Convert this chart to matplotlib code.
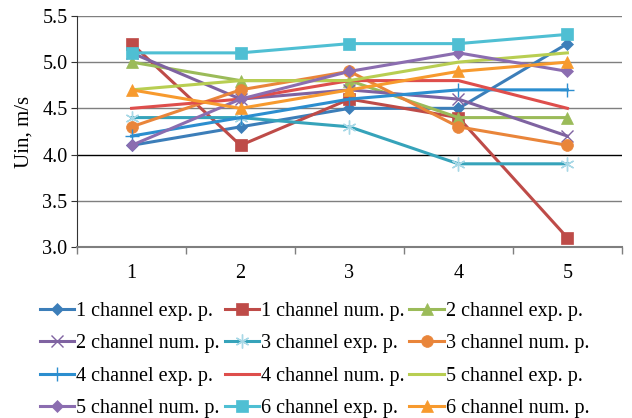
import matplotlib
matplotlib.use('Agg')
import matplotlib.pyplot as plt
import numpy as np

plt.rcParams['font.family'] = ['Liberation Serif', 'DejaVu Serif']

points = [1, 2, 3, 4, 5]

ch1_exp = [4.1, 4.3, 4.5, 4.5, 5.2]
ch1_num = [5.2, 4.1, 4.6, 4.4, 3.1]
ch2_exp = [5.0, 4.8, 4.8, 4.4, 4.4]
ch2_num = [5.1, 4.6, 4.7, 4.6, 4.2]
ch3_exp = [4.4, 4.4, 4.3, 3.9, 3.9]
ch3_num = [4.3, 4.7, 4.9, 4.3, 4.1]
ch4_exp = [4.2, 4.4, 4.6, 4.7, 4.7]
ch4_num = [4.5, 4.6, 4.8, 4.8, 4.5]
ch5_exp = [4.7, 4.8, 4.8, 5.0, 5.1]
ch5_num = [4.1, 4.6, 4.9, 5.1, 4.9]
ch6_exp = [5.1, 5.1, 5.2, 5.2, 5.3]
ch6_num = [4.7, 4.5, 4.7, 4.9, 5.0]

labels = ['1 channel exp. p.', '1 channel num. p.', '2 channel exp. p.',
          '2 channel num. p.', '3 channel exp. p.', '3 channel num. p.',
          '4 channel exp. p.', '4 channel num. p.', '5 channel exp. p.',
          '5 channel num. p.', '6 channel exp. p.', '6 channel num. p.']

series = [ch1_exp, ch1_num, ch2_exp, ch2_num, ch3_exp, ch3_num,
          ch4_exp, ch4_num, ch5_exp, ch5_num, ch6_exp, ch6_num]

colors = ['#3C7EB9', '#BE4B48', '#9BBB59', '#7F63A1', '#36A3BA', '#E9853A',
          '#2C8ECF', '#DE4E4C', '#B8CE52', '#8B6DB0', '#4FBFD3', '#F79A2E']
markers = ['D', 's', '^', 'x', (6, 2, 0), 'o', '+', None, None, 'D', 's', '^']
msizes = [6, 8.5, 8, 8, 10, 8.5, 10, 0, 0, 6.5, 8.5, 8]

fig = plt.figure(figsize=(6.32, 4.18), dpi=100)
ax = fig.add_axes([0.122, 0.409, 0.862, 0.553])

for s, c, m, ms, lab in zip(series, colors, markers, msizes, labels):
    thin = m in ('x', '+', (6, 2, 0))
    mec = '#A8D8E6' if m == (6, 2, 0) else c
    ax.plot(points, s, color=c, lw=2.2, marker=m, markersize=ms,
            markeredgecolor=mec, markeredgewidth=1.0 if thin else 0.5,
            label=lab)

ax.set_xlim(0.5, 5.5)
ax.set_ylim(3.0, 5.5)
ax.set_yticks(np.arange(3.0, 5.51, 0.5))
ax.set_yticklabels(['%.1f' % v for v in np.arange(3.0, 5.51, 0.5)], fontsize=14.5)
for v in [3.5, 4.0, 4.5, 5.0, 5.5]:
    ax.axhline(v, color='#000000' if v == 4.0 else '#7F7F7F', lw=1.0, zorder=0)

ax.set_xticks(points)
ax.set_xticklabels([str(p) for p in points], fontsize=14.5)
ax.tick_params(axis='x', length=0, pad=12)
ax.set_xticks([0.5, 1.5, 2.5, 3.5, 4.5, 5.5], minor=True)
ax.tick_params(axis='x', which='minor', length=5, color='#7F7F7F', width=1.0)
ax.tick_params(axis='y', length=4, color='#333333', pad=3)

for sp in ['top', 'right']:
    ax.spines[sp].set_visible(False)
ax.spines['left'].set_color('#333333')
ax.spines['bottom'].set_color('#7F7F7F')
ax.spines['bottom'].set_linewidth(1.5)

ax.set_ylabel('Uin, m/s', fontsize=15, labelpad=6)

# legend row-wise: reorder for column-major filling
h, l = ax.get_legend_handles_labels()
order = [0, 3, 6, 9, 1, 4, 7, 10, 2, 5, 8, 11]
fig.legend([h[i] for i in order], [l[i] for i in order], ncol=3,
           loc='upper left', bbox_to_anchor=(0.05, 0.297), frameon=False,
           fontsize=14.5, handlelength=1.7, handletextpad=0.1,
           columnspacing=0.25, labelspacing=0.66, borderaxespad=0)

fig.savefig('out.png', dpi=100)
